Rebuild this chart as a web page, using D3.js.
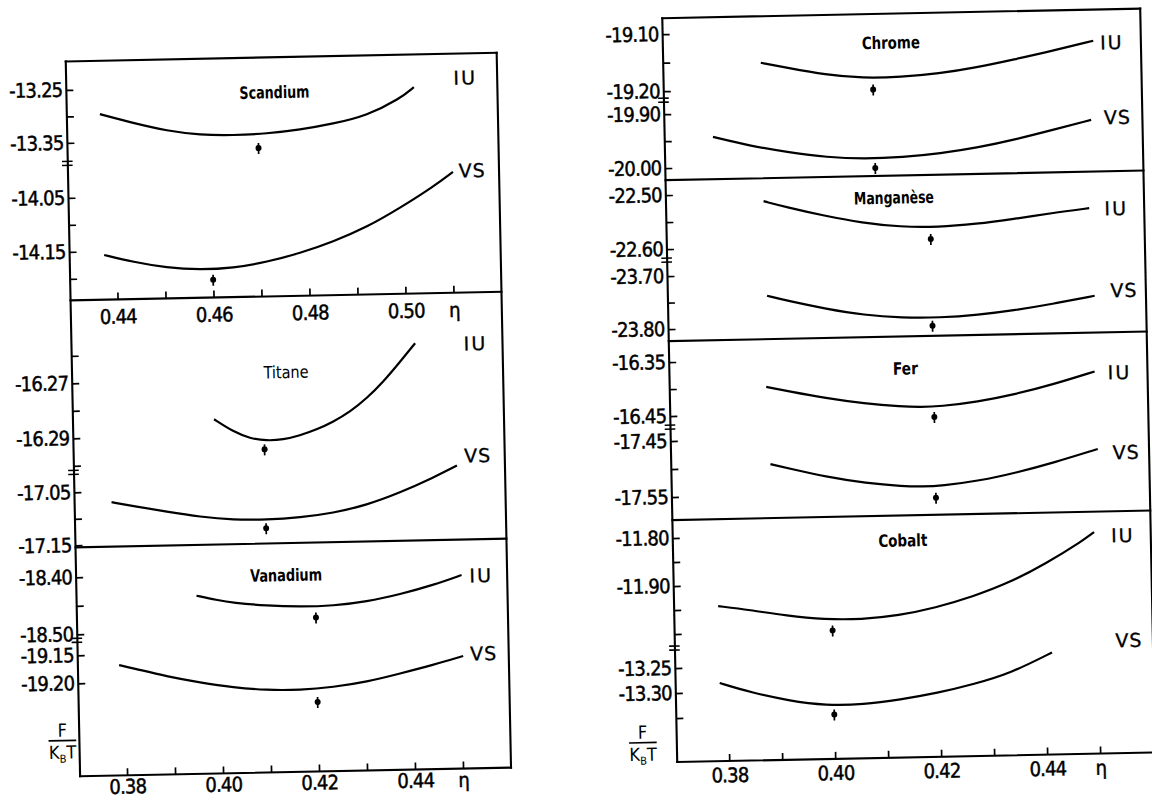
<!DOCTYPE html>
<html><head><meta charset="utf-8">
<script src="https://cdn.jsdelivr.net/npm/d3@7"></script>
<style>body{margin:0;background:#fff}svg{display:block}</style>
</head><body>
<svg id="c" width="1152" height="801"></svg>
<script>
// ---------------- DATA (eta, F/kBT) ----------------
const etaTicksTop = [0.44,0.45,0.46,0.47,0.48,0.49,0.50,0.51];
const etaLabelsTop = [0.44,0.46,0.48,0.50];
const etaTicksBottom = [0.38,0.39,0.40,0.41,0.42,0.43,0.44,0.45];
const etaLabelsBottom = [0.38,0.40,0.42,0.44];

const scandiumIU = [[0.4371,-13.297],[0.4440,-13.315],[0.4510,-13.331],[0.4579,-13.340],[0.4647,-13.342],[0.4718,-13.340],[0.4787,-13.334],[0.4856,-13.324],[0.4927,-13.310],[0.4997,-13.279],[0.5026,-13.258]];
const scandiumIUPoint = [0.470,-13.367];
const scandiumVS = [[0.4374,-14.157],[0.4434,-14.171],[0.4504,-14.183],[0.4573,-14.188],[0.4642,-14.186],[0.4713,-14.176],[0.4782,-14.161],[0.4851,-14.141],[0.4923,-14.115],[0.4992,-14.081],[0.5062,-14.043],[0.5104,-14.016]];
const scandiumVSPoint = [0.460,-14.207];
const scandiumIUTicks = [-13.25,-13.30,-13.35], scandiumIULabels = [-13.25,-13.35];
const scandiumVSTicks = [-14.05,-14.10,-14.15,-14.20], scandiumVSLabels = [-14.05,-14.15];

const titaneIU = [[0.4596,-16.2841],[0.4636,-16.2888],[0.4670,-16.2913],[0.4705,-16.2923],[0.4739,-16.2920],[0.4774,-16.2906],[0.4809,-16.2886],[0.4844,-16.2859],[0.4880,-16.2823],[0.4915,-16.2776],[0.4950,-16.2717],[0.4986,-16.2645],[0.5018,-16.2579]];
const titaneIUPoint = [0.470,-16.2954];
const titaneVS = [[0.4379,-17.070],[0.4424,-17.078],[0.4494,-17.090],[0.4563,-17.101],[0.4632,-17.108],[0.4701,-17.109],[0.4771,-17.106],[0.4840,-17.099],[0.4910,-17.085],[0.4980,-17.063],[0.5050,-17.036],[0.5100,-17.014]];
const titaneVSPoint = [0.470,-17.125];
const titaneIUTicks = [-16.26,-16.27,-16.28,-16.29,-16.30], titaneIULabels = [-16.27,-16.29];
const titaneVSTicks = [-17.05,-17.10,-17.15], titaneVSLabels = [-17.05,-17.15];

const vanadiumIU = [[0.3952,-18.4365],[0.3994,-18.4447],[0.4028,-18.4502],[0.4098,-18.4565],[0.4167,-18.4595],[0.4237,-18.4589],[0.4306,-18.4530],[0.4376,-18.4412],[0.4446,-18.4261],[0.4505,-18.4095]];
const vanadiumIUPoint = [0.420,-18.479];
const vanadiumVS = [[0.3788,-19.169],[0.3817,-19.175],[0.3887,-19.191],[0.3956,-19.203],[0.4025,-19.213],[0.4094,-19.219],[0.4164,-19.220],[0.4233,-19.216],[0.4303,-19.208],[0.4373,-19.194],[0.4442,-19.180],[0.4505,-19.165]];
const vanadiumVSPoint = [0.420,-19.242];
const vanadiumIUTicks = [-18.40,-18.45,-18.50], vanadiumIULabels = [-18.40,-18.50];
const vanadiumVSTicks = [-19.15,-19.20], vanadiumVSLabels = [-19.15,-19.20];

const chromeIU = [[0.3886,-19.1536],[0.3936,-19.1635],[0.4007,-19.1769],[0.4078,-19.1843],[0.4150,-19.1836],[0.4221,-19.1790],[0.4293,-19.1694],[0.4364,-19.1567],[0.4436,-19.1431],[0.4514,-19.1266]];
const chromeIUPoint = [0.4097,-19.2046];
const chromeVS = [[0.3793,-19.9438],[0.3864,-19.9622],[0.3936,-19.9755],[0.4007,-19.9859],[0.4078,-19.9903],[0.4150,-19.9886],[0.4221,-19.9830],[0.4293,-19.9734],[0.4364,-19.9597],[0.4436,-19.9431],[0.4507,-19.9264]];
const chromeVSPoint = [0.4098,-20.0076];
const chromeIUTicks = [-19.10,-19.15,-19.20], chromeIULabels = [-19.10,-19.20];
const chromeVSTicks = [-19.90,-19.95,-20.00], chromeVSLabels = [-19.90,-20.00];

const manganeseIU = [[0.3886,-22.5148],[0.3929,-22.5267],[0.4000,-22.5441],[0.4071,-22.5585],[0.4143,-22.5675],[0.4214,-22.5693],[0.4286,-22.5650],[0.4357,-22.5571],[0.4429,-22.5475],[0.4500,-22.5399]];
const manganeseIUPoint = [0.420,-22.591];
const manganeseVS = [[0.3889,-23.7407],[0.3929,-23.7514],[0.4000,-23.7677],[0.4071,-23.7810],[0.4143,-23.7874],[0.4214,-23.7887],[0.4286,-23.7850],[0.4357,-23.7773],[0.4429,-23.7667],[0.4507,-23.7531]];
const manganeseVSPoint = [0.420,-23.8035];
const manganeseIUTicks = [-22.50,-22.55,-22.60], manganeseIULabels = [-22.50,-22.60];
const manganeseVSTicks = [-23.70,-23.75,-23.80], manganeseVSLabels = [-23.70,-23.80];

const ferIU = [[0.3884,-16.3995],[0.3925,-16.4082],[0.3996,-16.4226],[0.4068,-16.4339],[0.4139,-16.4410],[0.4175,-16.4425],[0.4211,-16.4420],[0.4282,-16.4350],[0.4354,-16.4223],[0.4425,-16.4056],[0.4504,-16.3831]];
const ferIUPoint = [0.420,-16.4614];
const ferVS = [[0.3889,-17.4946],[0.3925,-17.5033],[0.3996,-17.5197],[0.4068,-17.5320],[0.4139,-17.5390],[0.4175,-17.5403],[0.4211,-17.5395],[0.4282,-17.5320],[0.4354,-17.5185],[0.4425,-17.5018],[0.4507,-17.4794]];
const ferVSPoint = [0.420,-17.5606];
const ferIUTicks = [-16.35,-16.40,-16.45], ferIULabels = [-16.35,-16.45];
const ferVSTicks = [-17.45,-17.50,-17.55], ferVSLabels = [-17.45,-17.55];

const cobaltIU = [[0.3785,-11.9436],[0.3844,-11.9529],[0.3914,-11.9664],[0.3985,-11.9758],[0.4055,-11.9773],[0.4125,-11.9708],[0.4195,-11.9562],[0.4265,-11.9347],[0.4335,-11.9072],[0.4406,-11.868],[0.4476,-11.822],[0.4497,-11.805]];
const cobaltIUPoint = [0.400,-11.999];
const cobaltVS = [[0.3785,-13.2817],[0.3844,-13.3020],[0.3914,-13.3195],[0.3985,-13.3310],[0.4055,-13.3305],[0.4125,-13.3220],[0.4195,-13.3105],[0.4265,-13.2940],[0.4335,-13.2735],[0.4413,-13.2339]];
const cobaltVSPoint = [0.400,-13.3493];
const cobaltIUTicks = [-11.80,-11.85,-11.90,-11.95,-12.00], cobaltIULabels = [-11.80,-11.90];
const cobaltVSTicks = [-13.25,-13.30,-13.35], cobaltVSLabels = [-13.25,-13.30];

// ---------------- LAYOUT ----------------
const NUM_FONT = "'DejaVu Sans Condensed','DejaVu Sans',sans-serif";
const fmt = v => (v < 0 ? "-" : "") + Math.abs(v).toFixed(2);
const svg = d3.select("#c");
svg.append("rect").attr("width",1152).attr("height",801).attr("fill","#fff");

const xLeftTop = d3.scaleLinear().domain([0.44,0.51]).range([120,456]);
const xLeftBot = d3.scaleLinear().domain([0.38,0.45]).range([120,456]);
const xRight = d3.scaleLinear().domain([0.38,0.45]).range([722,1093]);

const leftCol = {x0:73, x1:504, top:57, bottom:772, rightEnd:772, axisEnd:504, cx:290, cy:420, angle:-1.15,
  ylab:[56,736],
  panels:[
    {title:"Scandium", tw:70, tx:281, ty:92, bold:true, top:57, bottom:296, x:xLeftTop,
     iuDom:[-13.25,-13.35], iuRange:[85.5,138.5], vsDom:[-14.05,-14.15], vsRange:[193.5,247.5], brk:159,
     iu:scandiumIU, iuPt:scandiumIUPoint, vs:scandiumVS, vsPt:scandiumVSPoint,
     iuTicks:scandiumIUTicks, iuLabels:scandiumIULabels, vsTicks:scandiumVSTicks, vsLabels:scandiumVSLabels,
     iuPos:[472,81], vsPos:[477,174],
     xAxis:{ticks:etaTicksTop, labels:etaLabelsTop, last:0.51, pad:10}},
    {title:"Titane", tw:45, tx:287, ty:372, bold:false, top:296, bottom:543, x:xLeftTop,
     iuDom:[-16.27,-16.29], iuRange:[379,434], vsDom:[-17.05,-17.15], vsRange:[488,541], brk:468,
     iu:titaneIU, iuPt:titaneIUPoint, vs:titaneVS, vsPt:titaneVSPoint,
     iuTicks:titaneIUTicks, iuLabels:titaneIULabels, vsTicks:titaneVSTicks, vsLabels:titaneVSLabels,
     iuPos:[477,347], vsPos:[477,459]},
    {title:"Vanadium", tw:72, tx:283, ty:575, bold:true, top:543, bottom:772, x:xLeftBot,
     iuDom:[-18.40,-18.50], iuRange:[573,630], vsDom:[-19.15,-19.20], vsRange:[651,679], brk:636,
     iu:vanadiumIU, iuPt:vanadiumIUPoint, vs:vanadiumVS, vsPt:vanadiumVSPoint,
     iuTicks:vanadiumIUTicks, iuLabels:vanadiumIULabels, vsTicks:vanadiumVSTicks, vsLabels:vanadiumVSLabels,
     iuPos:[478,579], vsPos:[479,657],
     xAxis:{ticks:etaTicksBottom, labels:etaLabelsBottom, last:0.45, pad:4}}
  ]};

const rightCol = {x0:670, x1:1148, top:14, bottom:758, rightEnd:655, axisEnd:1170, cx:875, cy:400, angle:-1.15,
  ylab:[636,738],
  panels:[
    {title:"Chrome", tw:58, tx:898, ty:43, bold:true, top:14, bottom:176, x:xRight,
     iuDom:[-19.10,-19.20], iuRange:[30,87], vsDom:[-19.90,-20.00], vsRange:[110,164], brk:96,
     iu:chromeIU, iuPt:chromeIUPoint, vs:chromeVS, vsPt:chromeVSPoint,
     iuTicks:chromeIUTicks, iuLabels:chromeIULabels, vsTicks:chromeVSTicks, vsLabels:chromeVSLabels,
     iuPos:[1119,47], vsPos:[1123,122]},
    {title:"Manganèse", tw:80, tx:898, ty:198, bold:true, top:176, bottom:337, x:xRight,
     iuDom:[-22.50,-22.60], iuRange:[191,245], vsDom:[-23.70,-23.80], vsRange:[272,325], brk:256,
     iu:manganeseIU, iuPt:manganeseIUPoint, vs:manganeseVS, vsPt:manganeseVSPoint,
     iuTicks:manganeseIUTicks, iuLabels:manganeseIULabels, vsTicks:manganeseVSTicks, vsLabels:manganeseVSLabels,
     iuPos:[1120,213], vsPos:[1126,295]},
    {title:"Fer", tw:25, tx:906, ty:369, bold:true, top:337, bottom:516, x:xRight,
     iuDom:[-16.35,-16.45], iuRange:[358,412], vsDom:[-17.45,-17.55], vsRange:[437,493], brk:423,
     iu:ferIU, iuPt:ferIUPoint, vs:ferVS, vsPt:ferVSPoint,
     iuTicks:ferIUTicks, iuLabels:ferIULabels, vsTicks:ferVSTicks, vsLabels:ferVSLabels,
     iuPos:[1120,377], vsPos:[1125,457]},
    {title:"Cobalt", tw:49, tx:900, ty:541, bold:true, top:516, bottom:758, x:xRight,
     iuDom:[-11.80,-11.90], iuRange:[534,582], vsDom:[-13.25,-13.30], vsRange:[664,689], brk:644,
     iu:cobaltIU, iuPt:cobaltIUPoint, vs:cobaltVS, vsPt:cobaltVSPoint,
     iuTicks:cobaltIUTicks, iuLabels:cobaltIULabels, vsTicks:cobaltVSTicks, vsLabels:cobaltVSLabels,
     iuPos:[1120,540], vsPos:[1124,645],
     xAxis:{ticks:etaTicksBottom, labels:etaLabelsBottom, last:0.45, pad:7}}
  ]};

function styleAxis(a){
  a.select(".domain").remove();
  a.attr("font-family", NUM_FONT).attr("font-size", 20);
  a.selectAll(".tick line").attr("stroke","#000").attr("stroke-width",1.7);
  a.selectAll(".tick text").attr("fill","#000").attr("stroke","#000").attr("stroke-width",0.45).attr("letter-spacing","-0.8");
}

function drawColumn(col){
  const g = svg.append("g").attr("transform",`rotate(${col.angle},${col.cx},${col.cy})`);
  const L = (x1,y1,x2,y2,w=2.1) => g.append("line").attr("x1",x1).attr("y1",y1).attr("x2",x2).attr("y2",y2)
      .attr("stroke","#000").attr("stroke-width",w).attr("stroke-linecap","square");
  L(col.x0,col.top,col.x1,col.top);
  L(col.x0,col.top,col.x0,col.bottom);
  L(col.x1,col.top,col.x1,col.rightEnd);
  L(col.x0,col.bottom,col.axisEnd,col.bottom);

  col.panels.forEach((p,i) => {
    if (i < col.panels.length-1) L(col.x0,p.bottom,col.x1,p.bottom);
    const yIU = d3.scaleLinear().domain(p.iuDom).range(p.iuRange);
    const yVS = d3.scaleLinear().domain(p.vsDom).range(p.vsRange);
    [[yIU,p.iuTicks,p.iuLabels],[yVS,p.vsTicks,p.vsLabels]].forEach(([y,t,lab]) => {
      g.append("g").attr("transform",`translate(${col.x0},0)`)
        .call(d3.axisLeft(y).tickValues(t).tickSizeInner(-7).tickSizeOuter(0).tickPadding(4)
          .tickFormat(d => lab.includes(d) ? fmt(d) : ""))
        .call(styleAxis);
    });
    L(col.x0-5,p.brk-2,col.x0+4,p.brk-2,1.6);
    L(col.x0-5,p.brk+2,col.x0+4,p.brk+2,1.6);

    if (p.xAxis){
      const xa = p.xAxis;
      g.append("g").attr("transform",`translate(0,${p.bottom})`)
        .call(d3.axisBottom(p.x).tickValues(xa.ticks).tickSizeInner(-7).tickSizeOuter(0).tickPadding(xa.pad)
          .tickFormat(d => d === xa.last ? "η" : (xa.labels.includes(d) ? d.toFixed(2) : "")))
        .call(styleAxis);
    }
    const mk = y => d3.line().x(d => p.x(d[0])).y(d => y(d[1])).curve(d3.curveBasis);
    g.append("path").datum(p.iu).attr("d", mk(yIU)).attr("fill","none").attr("stroke","#000").attr("stroke-width",2.2);
    g.append("path").datum(p.vs).attr("d", mk(yVS)).attr("fill","none").attr("stroke","#000").attr("stroke-width",2.2);
    [[p.iuPt,yIU],[p.vsPt,yVS]].forEach(([pt,y]) => {
      const cx = p.x(pt[0]), cy = y(pt[1]);
      L(cx,cy-5,cx,cy+6,1.7).attr("stroke-linecap","butt");
      g.append("circle").attr("cx",cx).attr("cy",cy).attr("r",3).attr("fill","#000");
    });
    g.append("text").attr("x",p.tx).attr("y",p.ty).attr("text-anchor","middle").attr("dominant-baseline","central")
      .attr("font-family",NUM_FONT).attr("font-size",17).attr("font-weight",p.bold?"bold":"normal")
      .attr("textLength",p.tw).attr("lengthAdjust","spacingAndGlyphs").text(p.title);
    [["IU",p.iuPos],["VS",p.vsPos]].forEach(([t,pos]) => {
      g.append("text").attr("x",pos[0]).attr("y",pos[1]).attr("text-anchor","middle").attr("dominant-baseline","central")
        .attr("font-family","'DejaVu Sans',sans-serif").attr("font-size",19).attr("stroke","#000").attr("stroke-width",0.3)
        .attr("letter-spacing", t==="IU"?"2":"1").text(t);
    });
  });
  const [fx,fy] = col.ylab;
  g.append("text").attr("x",fx).attr("y",fy-4).attr("text-anchor","middle").attr("font-family",NUM_FONT).attr("font-size",18).text("F");
  L(fx-13,fy,fx+13,fy,1.7);
  const t = g.append("text").attr("x",fx).attr("y",fy+18).attr("text-anchor","middle").attr("font-family",NUM_FONT).attr("font-size",18);
  t.append("tspan").text("K");
  t.append("tspan").attr("font-size",11).attr("dy",4).text("B");
  t.append("tspan").attr("dy",-4).text("T");
}

drawColumn(leftCol);
drawColumn(rightCol);
</script>
</body></html>
